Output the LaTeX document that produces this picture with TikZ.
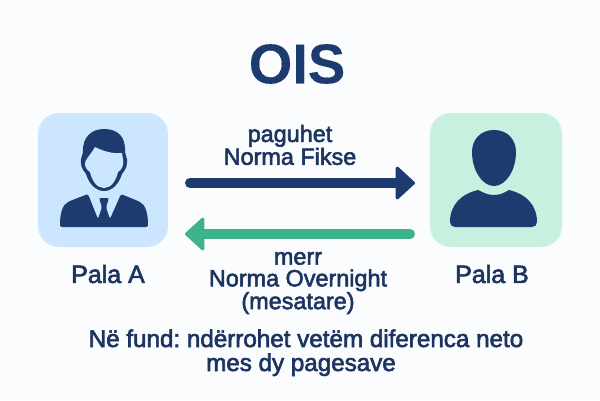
\documentclass[tikz,border=0pt]{standalone}
\usepackage{fontspec}
\usepackage{xcolor}
\usepackage{tikz}
\usetikzlibrary{arrows.meta}
\setmainfont[FakeBold=2.4]{Liberation Sans}
\newfontfamily\titlefont[FakeBold=0.2]{Liberation Sans Bold}
\definecolor{navy}{HTML}{1D3B6E}
\definecolor{inkblue}{HTML}{1B3460}
\definecolor{mint}{HTML}{3DB28C}
\definecolor{paleblue}{HTML}{CBE6FE}
\definecolor{palemint}{HTML}{C6F1DF}
\definecolor{paper}{HTML}{FBFCFD}
\frenchspacing
\tikzset{
    partybox/.style={minimum width=#1, minimum height=134pt, rounded corners=21pt, inner sep=0pt},
    partylabel/.style={text=inkblue, font=\fontsize{25}{27}\selectfont},
    ratelabel/.style={text=inkblue, align=center, font=\fontsize{23.4}{21.7}\selectfont},
    noteline/.style={text=inkblue, anchor=base, inner sep=0pt, font=\fontsize{24.2}{26}\selectfont},
    flow/.style={line width=10pt, line cap=round, -{Triangle[length=20pt, width=36pt, line width=3pt, round]}}
}

\begin{document}
\begin{tikzpicture}[x=1pt, y=-1pt]
    % Fond
    \fill[paper] (0,0) rectangle (600,400);
    \useasboundingbox (0,0) rectangle (600,400);

    % Titre
    \node[text=navy, font=\titlefont\fontsize{56}{60}\selectfont] (title) at (297,64) {OIS};

    % Les deux cadres
    \node[partybox=130pt, fill=paleblue] (palaA) at (103,180) {};
    \node[partybox=132pt, fill=palemint] (palaB) at (496,180) {};
    \node[partylabel] (labelA) at (108,274) {Pala A};
    \node[partylabel] (labelB) at (492,274) {Pala B};

    % Personne A
    \fill[navy] (104,129) .. controls (116,129) and (126,135) .. (125,152)
        .. controls (125,156) and (128,158) .. (127,163)
        .. controls (127,168) and (124,171) .. (122,174)
        .. controls (119,184) and (112,191) .. (104,191)
        .. controls (96,191) and (89,184) .. (86,174)
        .. controls (84,171) and (81,168) .. (81,163)
        .. controls (80,158) and (83,156) .. (83,152)
        .. controls (82,137) and (92,129) .. (104,129) -- cycle;
    \fill[paleblue] (95,147) .. controls (103,151) and (112,154) .. (122,153)
        .. controls (122,157) and (124,160) .. (123,165)
        .. controls (122,169) and (120,171) .. (118,172)
        .. controls (116,181) and (111,188) .. (104,188)
        .. controls (97,188) and (92,181) .. (90,172)
        .. controls (88,171) and (86,169) .. (85,165)
        .. controls (84,160) and (90,156) .. (95,147) -- cycle;
    \fill[navy, rounded corners=2pt] (88,194) -- (98,219) -- (102,207) -- (99,198) -- (109,198)
        -- (106,207) -- (110,219) -- (121,194) -- (138,201)
        .. controls (146,205) and (148,214) .. (148,227)
        -- (60,227) .. controls (60,214) and (62,205) .. (70,201) -- cycle;

    % Personne B
    \fill[navy] (494,130) .. controls (508,130) and (516,140) .. (516,152)
        .. controls (516,170) and (506,186) .. (494,186)
        .. controls (482,186) and (472,170) .. (472,152)
        .. controls (472,140) and (480,130) .. (494,130) -- cycle;
    \fill[navy] (478,190) .. controls (484,193) and (488,195) .. (494,195)
        .. controls (500,195) and (504,193) .. (509,190)
        .. controls (526,194) and (537,205) .. (537,222)
        .. controls (537,225) and (535,227) .. (532,227)
        -- (455,227) .. controls (452,227) and (450,225) .. (450,222)
        .. controls (450,205) and (461,194) .. (478,190) -- cycle;

    % Les deux flux
    \coordinate (fixedStart) at (190,183);
    \coordinate (fixedEnd) at (415,183);
    \coordinate (floatStart) at (410,234);
    \coordinate (floatEnd) at (185,234);
    \draw[flow, navy] (fixedStart) -- (fixedEnd);
    \draw[flow, mint] (floatStart) -- (floatEnd);
    \node[ratelabel] (fixedRate) at (290,145) {paguhet\\Norma Fikse};
    \node[ratelabel] (floatRate) at (298,283) {merr\\Norma Overnight\\(mesatare)};

    % Conclusion
    \node[noteline] (noteOne) at (306,347) {Në fund: ndërrohet vetëm diferenca neto};
    \node[noteline] (noteTwo) at (301,371) {mes dy pagesave};
\end{tikzpicture}
\end{document}
